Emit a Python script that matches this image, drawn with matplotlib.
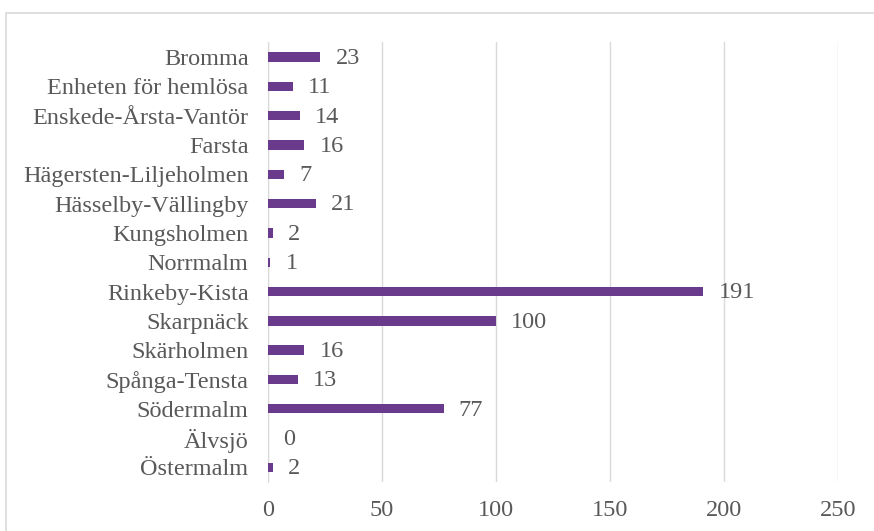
import matplotlib
matplotlib.use("Agg")
import matplotlib.pyplot as plt
from matplotlib.patches import Rectangle

categories = ["Bromma", "Enheten för hemlösa", "Enskede-Årsta-Vantör", "Farsta",
              "Hägersten-Liljeholmen", "Hässelby-Vällingby", "Kungsholmen", "Norrmalm",
              "Rinkeby-Kista", "Skarpnäck", "Skärholmen", "Spånga-Tensta",
              "Södermalm", "Älvsjö", "Östermalm"]
values = [23, 11, 14, 16, 7, 21, 2, 1, 191, 100, 16, 13, 77, 0, 2]
xticks = [0, 50, 100, 150, 200, 250]

plt.rcParams['font.family'] = ['Liberation Serif', 'DejaVu Serif']
txt = '#595959'
bar_color = '#6a3a8c'
fs = 17.5

fig = plt.figure(figsize=(8.74, 5.31), dpi=100)
ax = fig.add_axes([268/874, 1-482/531, (838-268)/874, (482-42.4)/531])

y = list(range(len(categories)))
ax.barh(y, values, height=0.32, color=bar_color, zorder=3)
for yi, v in zip(y, values):
    ax.annotate(str(v), (v, yi), xytext=(11, -1), textcoords='offset points',
                va='center', ha='left', fontsize=fs, color=txt)

ax.set_yticks(y)
ax.set_yticklabels(categories, fontsize=fs, color=txt)
ax.set_ylim(len(categories)-0.5, -0.5)
ax.set_xlim(0, 250)
ax.set_xticks(xticks)
ax.set_xticklabels([str(t) for t in xticks], fontsize=fs, color=txt)
ax.tick_params(axis='both', length=0)
ax.tick_params(axis='x', pad=13)
ax.tick_params(axis='y', pad=14)
ax.grid(axis='x', color='#d9d9d9', linewidth=1, zorder=0)
for s in ['top', 'right', 'bottom']:
    ax.spines[s].set_visible(False)
ax.spines['left'].set_color('#d9d9d9')

fig.patches.append(Rectangle((6/874, -0.1), 1.2, 1-13/531+0.1, transform=fig.transFigure,
                             fill=False, edgecolor='#d9d9d9', linewidth=1.2, clip_on=False))

fig.savefig('out.png', dpi=100)
